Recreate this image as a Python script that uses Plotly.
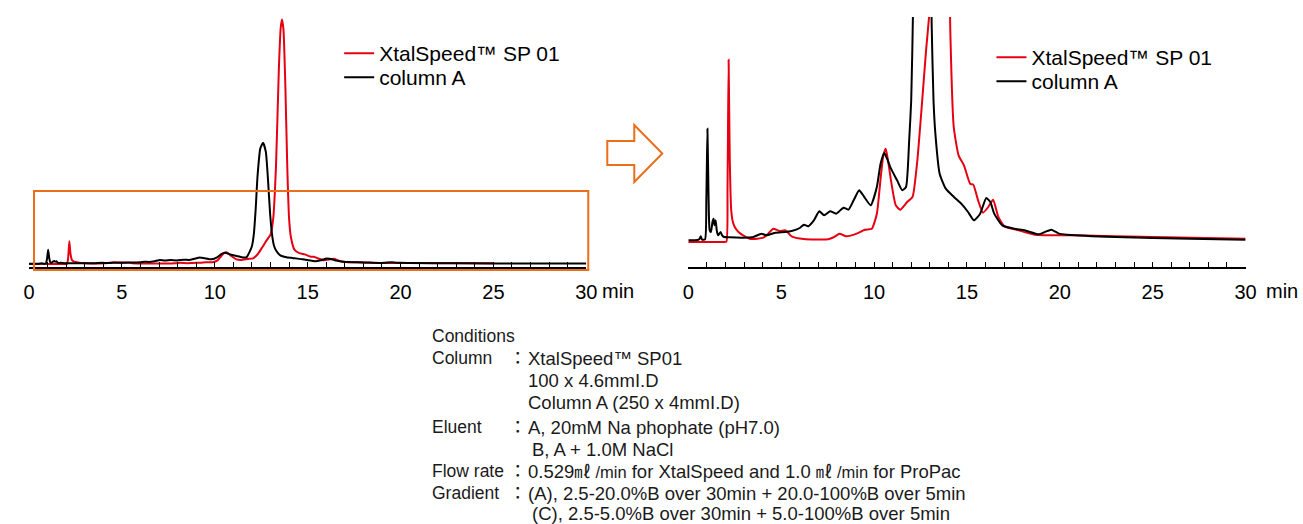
import plotly.graph_objects as go

# ---------------- data ----------------
# retention time (min) and detector signal (arbitrary units)
black_time = [0.0, 0.5, 0.6, 0.67, 0.74, 0.9, 0.97, 1.03, 1.09, 1.15, 1.22, 1.3, 1.36,
              1.41, 1.47, 1.53, 1.6, 1.67, 1.74, 1.82, 1.92, 2.2, 2.95, 3.5, 3.93, 4.2,
              4.7, 5.2, 5.56, 6.0, 6.22, 6.45, 6.76, 7.05, 7.31, 7.64, 7.96, 8.36, 8.62,
              8.9, 9.2, 9.45, 9.82, 10.15, 10.35, 10.55, 10.7, 10.91, 11.24, 11.52,
              11.72, 11.89, 12.0, 12.1, 12.2, 12.3, 12.45, 12.6, 12.75, 12.87, 12.98,
              13.1, 13.2, 13.3, 13.53, 13.86, 14.3, 14.73, 15.06, 15.38, 15.71, 16.04,
              16.26, 16.47, 16.9, 17.56, 18.1, 18.87, 19.2, 19.55, 19.96, 20.4, 23.0,
              27.0, 30.0]
black_signal = [0, 1, 4, 12, 2, 3, 120, 335, 130, 30, 25, 55, 65,
                45, 60, 30, 15, 20, 25, 15, 10, 9, 8, 10, 20, 15,
                23, 25, 28, 37, 47, 42, 60, 87, 75, 87, 80, 98, 92,
                120, 150, 132, 105, 160, 230, 262, 245, 215, 180, 150,
                160, 300, 420, 700, 1300, 2100, 2780, 2920, 2700, 2000, 1200,
                650, 420, 320, 200, 155, 130, 108, 85, 60, 80, 127,
                115, 80, 45, 35, 30, 18, 25, 32, 20, 17, 10,
                5, 2]

red_time = [0.0, 1.9, 2.05, 2.11, 2.17, 2.23, 2.31, 2.4, 2.5, 2.7, 2.95, 3.38, 4.04,
            4.3, 4.58, 4.9, 5.24, 5.56, 6.22, 7.53, 7.85, 8.14, 8.5, 9.06, 9.5, 9.88,
            10.15, 10.36, 10.5, 10.63, 10.75, 10.91, 11.17, 11.41, 11.78, 12.07, 12.33,
            12.55, 12.8, 13.0, 13.15, 13.3, 13.45, 13.55, 13.62, 13.7, 13.8, 13.9,
            14.0, 14.1, 14.29, 14.55, 14.84, 15.17, 15.34, 15.6, 15.86, 16.15, 16.41,
            16.69, 17.02, 17.78, 18.66, 20.84, 25.0, 30.0]
red_signal = [-5, -5, -4, 150, 542, 250, 90, 55, 40, 25, 15, 4, 8,
              20, 35, 28, 30, 12, 4, 3, 10, 20, 12, 20, 32, 35,
              80, 190, 255, 275, 240, 180, 105, 92, 115, 130, 240,
              390, 570, 700, 1100, 2400, 4700, 5700, 5900, 5650, 4300, 2400,
              1100, 640, 340, 255, 225, 170, 167, 120, 83, 100, 122,
              70, 42, 30, 17, 15, 10, 5]

series_names = ["XtalSpeed\u2122 SP 01", "column A"]
series_colors = ["#E60012", "#000000"]
left_red_end = 25.0           # red trace of the overview chart stops at 25 min
x_tick_values = [0, 5, 10, 15, 20, 25, 30]
x_unit = "min"

condition_labels = ["Conditions", "Column", "", "", "Eluent", "", "Flow rate", "Gradient", ""]
condition_texts = [
    "",
    "XtalSpeed\u2122 SP01",
    "100 x 4.6mmI.D",
    "Column A (250 x 4mmI.D)",
    "A, 20mM Na phophate (pH7.0)",
    "B, A + 1.0M NaCl",
    "0.529<span style='font-size:16.5px'>\u3396 /min</span> for XtalSpeed and 1.0 "
    "<span style='font-size:16.5px'>\u3396 /min</span> for ProPac",
    "(A), 2.5-20.0%B over 30min + 20.0-100%B over 5min",
    "(C), 2.5-5.0%B over 30min + 5.0-100%B over 5min",
]

# ---------------- layout helpers ----------------
W, H = 1303, 524
FONT = "Liberation Sans, Arial, Helvetica, Noto Sans CJK JP, sans-serif"
# small horizontal correction observed between the written page and its photograph
X_OFF, X_SCALE = 4.0, 0.9865


def px(x):
    return ((x - X_OFF) / X_SCALE) / W


def py(y):
    return 1 - y / H


fig = go.Figure()

# overview chart (left)
left_red_t = [t for t in red_time if t <= left_red_end]
left_red_v = [v for t, v in zip(red_time, red_signal) if t <= left_red_end]
fig.add_trace(go.Scatter(x=left_red_t, y=left_red_v, mode="lines", name=series_names[0],
                         line=dict(color=series_colors[0], width=2, shape="spline", smoothing=0.5),
                         xaxis="x", yaxis="y", legend="legend"))
fig.add_trace(go.Scatter(x=black_time, y=black_signal, mode="lines", name=series_names[1],
                         line=dict(color=series_colors[1], width=2, shape="spline", smoothing=0.5),
                         xaxis="x", yaxis="y", legend="legend2"))
# zoomed chart (right)
fig.add_trace(go.Scatter(x=red_time, y=red_signal, mode="lines", name=series_names[0],
                         line=dict(color=series_colors[0], width=2, shape="spline", smoothing=0.5),
                         xaxis="x2", yaxis="y2", legend="legend3"))
fig.add_trace(go.Scatter(x=black_time, y=black_signal, mode="lines", name=series_names[1],
                         line=dict(color=series_colors[1], width=2, shape="spline", smoothing=0.5),
                         xaxis="x2", yaxis="y2", legend="legend4"))

ydom = [py(267), py(17)]


def xaxis_style(domain, anchor):
    return dict(domain=domain, anchor=anchor, range=[0, 30], showline=True, linecolor="black",
                linewidth=1.5, showgrid=False, zeroline=False, ticks="inside", ticklen=5,
                tickwidth=1, tickcolor="black", tickvals=x_tick_values,
                ticktext=[str(v) for v in x_tick_values],
                tickfont=dict(family=FONT, size=20, color="black"),
                ticklabelstandoff=6,
                minor=dict(dtick=1, ticks="inside", ticklen=5, tickwidth=1, tickcolor="black",
                           showgrid=False),
                fixedrange=True)


def yaxis_style(anchor, rng):
    return dict(domain=ydom, anchor=anchor, range=rng, visible=False, showgrid=False,
                zeroline=False, fixedrange=True)


legend_common = dict(font=dict(family=FONT, size=21, color="black"), bgcolor="rgba(0,0,0,0)",
                     borderwidth=0, xanchor="left", yanchor="middle", itemclick=False,
                     itemdoubleclick=False, tracegroupgap=0)

fig.update_layout(
    width=W, height=H, margin=dict(l=0, r=0, t=0, b=0),
    paper_bgcolor="white", plot_bgcolor="white",
    showlegend=True,
    xaxis=xaxis_style([px(27), px(584)], "y"),
    yaxis=yaxis_style("x", [-80, 5960]),
    xaxis2=xaxis_style([px(686), px(1243)], "y2"),
    yaxis2=yaxis_style("x2", [-80, 670]),
    legend=dict(x=px(337), y=py(53.5), **legend_common),
    legend2=dict(x=px(337), y=py(77.5), **legend_common),
    legend3=dict(x=px(989), y=py(57.5), **legend_common),
    legend4=dict(x=px(989), y=py(81.5), **legend_common),
)

# "min" unit labels next to the 30 tick labels
for xpos in (598, 1261):
    fig.add_annotation(x=px(xpos), y=py(291), xref="paper", yref="paper", text=x_unit,
                       showarrow=False, xanchor="left", yanchor="middle",
                       font=dict(family=FONT, size=20, color="black"))

# orange box marking the zoomed area on the overview chart
fig.add_shape(type="rect", xref="paper", yref="paper", x0=px(32), x1=px(586), y0=py(191),
              y1=py(270), line=dict(color="#EB6E1A", width=2), fillcolor="rgba(0,0,0,0)")

# orange outlined arrow
arrow_pts = [(605, 141), (632, 141), (632, 125), (660, 153.5), (632, 182), (632, 165), (605, 165)]
path = "M " + " L ".join(f"{px(a):.5f},{py(b):.5f}" for a, b in arrow_pts) + " Z"
fig.add_shape(type="path", xref="paper", yref="paper", path=path,
              line=dict(color="#EB6E1A", width=2), fillcolor="white")

# conditions block
baselines = [342, 364, 386, 408, 433, 455, 477, 499, 519]
lfont = dict(family=FONT, size=17.5, color="#1a1a1a")
cfont = dict(family=FONT, size=18.5, color="#1a1a1a")
for i, (lab, txt) in enumerate(zip(condition_labels, condition_texts)):
    yc = py(baselines[i] - 6)
    if lab:
        fig.add_annotation(x=px(428), y=yc, xref="paper", yref="paper", text=lab,
                           showarrow=False, xanchor="left", yanchor="middle", font=lfont)
        if i > 0:
            fig.add_annotation(x=px(516), y=yc, xref="paper", yref="paper", text="\uff1a",
                               showarrow=False, xanchor="center", yanchor="middle", font=lfont)
    if txt:
        xoff = 528 if i in (5, 8) else 524
        fig.add_annotation(x=px(xoff), y=yc, xref="paper", yref="paper", text=txt,
                           showarrow=False, xanchor="left", yanchor="middle", font=cfont)

fig.write_html("out.html", config={"displayModeBar": False},
               post_script="document.body.style.margin='0';"
                           "document.documentElement.style.overflow='hidden';"
                           "document.body.style.overflow='hidden';")
